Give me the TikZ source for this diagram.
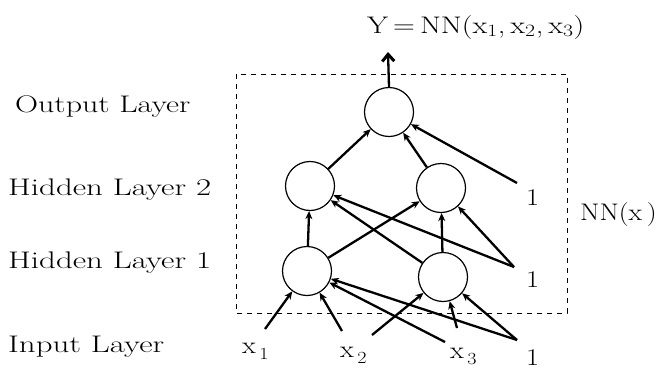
\documentclass[tikz,border=0pt]{standalone}
\usetikzlibrary{arrows.meta}
\newcommand{\wt}[2][1.18]{\scalebox{#1}[1]{#2}}
\newcommand{\xs}[1]{x\kern3pt\raisebox{-6pt}{\fontsize{17}{17}\selectfont #1}}
\begin{document}
\begin{tikzpicture}[x=1pt,y=-1pt,
  neuron/.style={circle,draw,line width=1.2pt,minimum size=49pt,inner sep=0pt},
  conn/.style={line width=2.3pt,-{Stealth[length=8pt,width=7pt,inset=2.5pt]}},
  lbl/.style={font=\fontsize{24}{28}\selectfont,inner sep=0pt,anchor=base west},
  box/.style={line width=1pt,dash pattern=on 5pt off 5pt},
  outarrow/.style={line width=2.3pt,-{Straight Barb[length=7pt,width=12pt,line width=3pt]}}
]
\useasboundingbox (0,0) rectangle (658,370);
% dashed box
\draw[box] (236,74) rectangle (567,313);
% neurons
\node[neuron] (O) at (389,112) {};
\node[neuron] (H2a) at (310,186) {};
\node[neuron] (H2b) at (441,188) {};
\node[neuron] (H1a) at (307,271) {};
\node[neuron] (H1b) at (443,277) {};
% tails
\coordinate (tx1) at (265,329);
\coordinate (tx2a) at (342,331);
\coordinate (tx2b) at (372,335);
\coordinate (tx3a) at (445,342);
\coordinate (tx3b) at (457,328);
\coordinate (tb1) at (517,340);
\coordinate (tb2) at (514,267);
\coordinate (tb3) at (517,183);
\coordinate (yout) at (388,52);
% input -> H1
\draw[conn] (tx1) -- (H1a);
\draw[conn] (tx2a) -- (H1a);
\draw[conn] (tx2b) -- (H1b);
\draw[conn] (tx3a) -- (H1a);
\draw[conn] (tx3b) -- (H1b);
\draw[conn] (tb1) -- (H1a);
\draw[conn] (tb1) -- (H1b);
% H1 -> H2
\draw[conn] (H1a) -- (H2a);
\draw[conn] (H1a) -- (H2b);
\draw[conn] (H1b) -- (H2a);
\draw[conn] (H1b) -- (H2b);
\draw[conn] (tb2) -- (H2a);
\draw[conn] (tb2) -- (H2b);
% H2 -> O
\draw[conn] (H2a) -- (O);
\draw[conn] (H2b) -- (O);
\draw[conn] (tb3) -- (O);
% output
\draw[outarrow] (O.north) -- (yout);
% labels
\node[lbl] (lout) at (15,112) {\wt[1.33]{Output Layer}};
\node[lbl] (lh2) at (8,195) {\wt[1.37]{Hidden Layer 2}};
\node[lbl] (lh1) at (8,268) {\wt[1.37]{Hidden Layer 1}};
\node[lbl] (lin) at (8,352) {\wt[1.37]{Input Layer}};
\node[lbl] (x1) at (242,353) {\wt{\xs{1}}};
\node[lbl] (x2) at (340,357) {\wt{\xs{2}}};
\node[lbl] (x3) at (450,358) {\wt{\xs{3}}};
\node[lbl] (b1) at (526,365) {\wt{1}};
\node[lbl] (b2) at (526,287) {\wt{1}};
\node[lbl] (b3) at (526,205) {\wt{1}};
\node[lbl] (nn) at (580,220) {\wt[1.16]{NN(x\,)}};
\node[lbl] (ylab) at (367,33) {\wt[1.26]{Y\,=\,NN(x$_{1}$,\,x$_{2}$,\,x$_{3}$)}};
\end{tikzpicture}
\end{document}
